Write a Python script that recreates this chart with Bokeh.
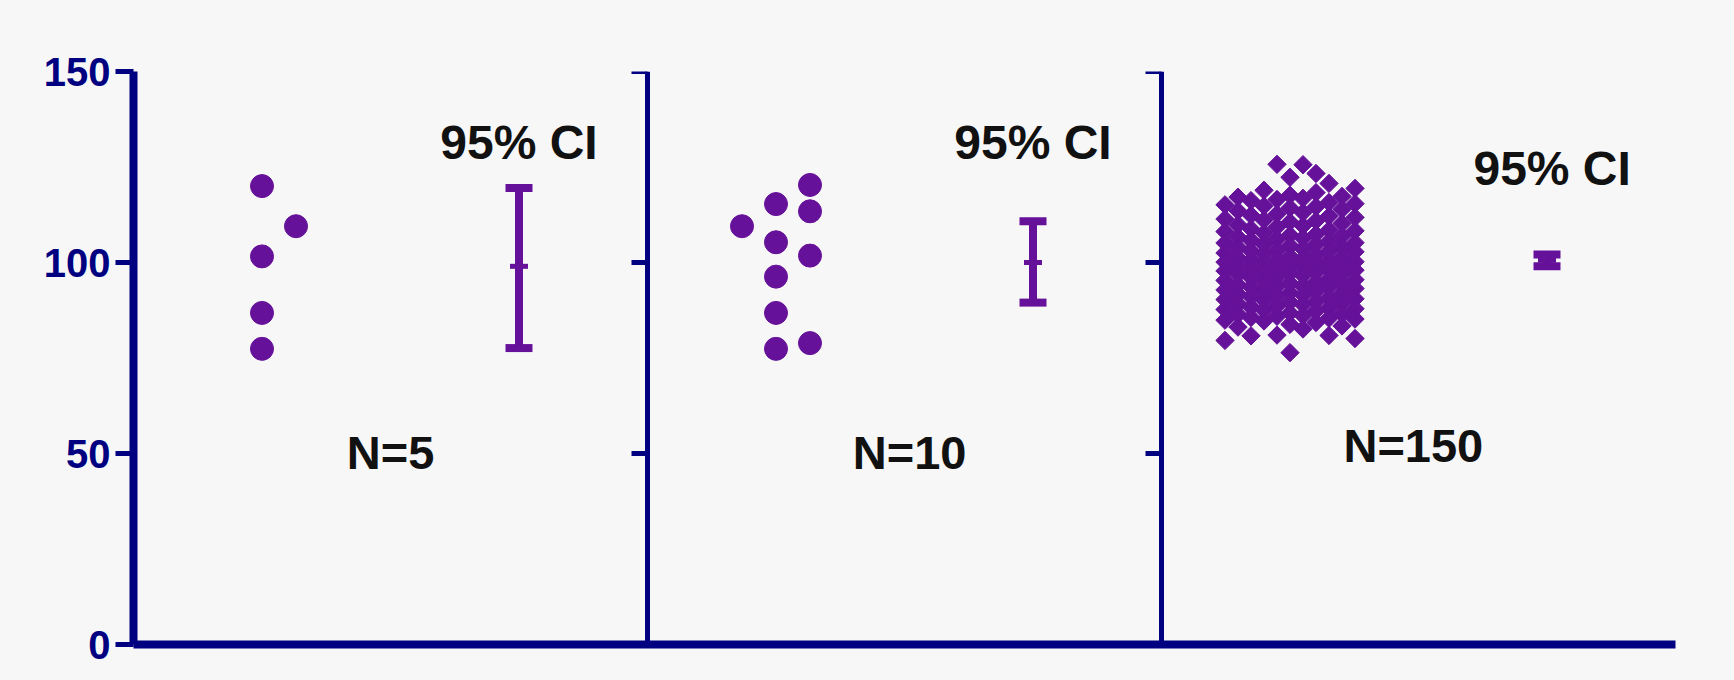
import math
from bokeh.plotting import figure
from bokeh.models import Range1d, FixedTicker, ColumnDataSource
from bokeh.core.properties import value
from bokeh.embed import file_html
from bokeh.resources import INLINE

# ---------------- data ----------------
group_labels = ["N=5", "N=10", "N=150"]
ci_text = "95% CI"
y_ticks = [0, 50, 100, 150]

n5_values = [120.0, 109.5, 101.6, 86.8, 77.4]
n5_slots = [0, 1, 0, 0, 0]

n10_values = [109.5, 115.3, 120.3, 113.4, 105.3, 101.8, 96.3, 86.8, 77.4, 78.9]
n10_slots = [-1, 0, 1, 1, 0, 1, 0, 0, 0, 1]

n150_values = [
    125.7, 123.3, 120.7, 122.3, 125.6, 118.9, 117.6, 118.3, 116.2, 117.1,
    115.7, 115.4, 114.8, 116.5, 113.9, 114.3, 112.7, 113.5, 112.1, 111.8,
    110.9, 111.4, 110.2, 109.6, 110.6, 108.8, 109.3, 108.1, 107.7, 108.5,
    107.2, 106.4, 106.9, 105.8, 106.1, 105.2, 104.7, 105.5, 104.1, 103.6,
    104.4, 103.1, 102.8, 103.3, 102.2, 101.9, 102.5, 101.3, 100.9, 101.6,
    100.4, 100.1, 100.7, 99.8, 99.5, 99.2, 100.2, 98.9, 98.6, 99.1,
    98.2, 97.8, 98.4, 97.4, 97.0, 96.6, 97.2, 96.1, 95.7, 96.3,
    95.3, 94.8, 95.1, 94.4, 93.9, 94.1, 93.5, 93.2, 92.8, 93.6,
    92.4, 91.9, 92.1, 91.5, 91.1, 90.7, 91.3, 90.3, 89.8, 90.1,
    89.4, 89.0, 88.6, 89.2, 88.1, 87.7, 87.9, 87.3, 86.8, 86.4,
    86.1, 85.6, 85.9, 85.2, 84.7, 84.3, 83.8, 83.4, 80.9, 80.1,
    79.6, 80.8, 76.4, 81.0, 83.1,
    101.2, 99.7, 102.9, 98.0, 104.9, 96.9, 106.6, 95.5, 108.3, 93.8,
    111.1, 91.7, 113.1, 89.6, 115.1, 87.5, 117.3, 85.4, 100.6, 103.9,
    97.6, 105.1, 94.6, 107.4, 92.6, 109.9, 90.5, 112.4, 88.3, 114.6,
    86.6, 116.8, 84.9, 119.4, 82.6,
]

ci_mean = [99.0, 100.0, 100.6]
ci_low = [77.6, 89.5, 99.0]
ci_high = [119.5, 110.8, 102.1]

# ---------------- layout / style ----------------
W, H = 1734, 680
FL, FR, FT, FB = 133, 59, 71, 36
FW = W - FL - FR
FH = H - FT - FB
Y_MAX = 150
N_PANELS = 3
PX_X = FW / N_PANELS
PX_Y = FH / Y_MAX

PURPLE = "#661199"
NAVY = "#000080"
BG = "#f7f7f8"
FONT = "Liberation Sans"

POINT_POS = 0.25
CI_POS = 0.75
CIRCLE_SLOT_PX = 34
DIAMOND_STEP_PX = 13
DIAMOND_DMIN_PX = 15
DIAMOND_KMAX = 5


def swarm_offsets(vals):
    med = sorted(vals)[len(vals) // 2]
    order = sorted(range(len(vals)), key=lambda i: abs(vals[i] - med))
    cands = [0]
    for k in range(1, DIAMOND_KMAX + 1):
        cands += [k, -k]
    placed = []
    offs = [0.0] * len(vals)
    for i in order:
        y = vals[i] * PX_Y
        best_k, best_d = 0, -1.0
        chosen = None
        for k in cands:
            x = k * DIAMOND_STEP_PX
            d = min((math.hypot(x - px, y - py) for px, py in placed), default=1e9)
            if d >= DIAMOND_DMIN_PX:
                chosen = k
                break
            if d > best_d:
                best_d, best_k = d, k
        if chosen is None:
            chosen = best_k
        placed.append((chosen * DIAMOND_STEP_PX, y))
        offs[i] = chosen * DIAMOND_STEP_PX
    return offs


p = figure(width=W, height=H, output_backend="svg", toolbar_location=None,
           x_range=Range1d(0, N_PANELS), y_range=Range1d(0, Y_MAX),
           min_border_left=FL, min_border_right=FR, min_border_top=FT,
           min_border_bottom=FB)
p.background_fill_color = BG
p.border_fill_color = BG
p.outline_line_color = None
p.xgrid.visible = False
p.ygrid.visible = False

# y axis
ya = p.yaxis[0]
ya.ticker = FixedTicker(ticks=y_ticks)
ya.axis_line_color = NAVY
ya.axis_line_width = 8
ya.major_tick_line_color = NAVY
ya.major_tick_line_width = 5
ya.major_tick_out = 18
ya.major_tick_in = 0
ya.minor_tick_line_color = None
ya.major_label_standoff = 5
ya.major_label_text_font = FONT
ya.major_label_text_font_style = "bold"
ya.major_label_text_font_size = "40px"
ya.major_label_text_color = NAVY

# x axis: line only
xa = p.xaxis[0]
xa.ticker = FixedTicker(ticks=[])
xa.axis_line_color = NAVY
xa.axis_line_width = 8
xa.major_tick_line_color = None
xa.minor_tick_line_color = None
xa.major_label_text_font_size = "0px"

# panel dividers with left ticks
div_x = list(range(1, N_PANELS))
p.segment(x0=div_x, y0=[0] * len(div_x), x1=div_x, y1=[Y_MAX] * len(div_x),
          line_color=NAVY, line_width=5)
tx0, tx1, ty = [], [], []
for d in div_x:
    for t in y_ticks[1:]:
        tx0.append(d - 16 / PX_X)
        tx1.append(d)
        ty.append(t)
p.segment(x0=tx0, y0=ty, x1=tx1, y1=ty, line_color=NAVY, line_width=5)

# points, panels 1 and 2 (circles)
cx, cy = [], []
for panel, (vals, slots) in enumerate([(n5_values, n5_slots), (n10_values, n10_slots)]):
    for v, s in zip(vals, slots):
        cx.append(panel + POINT_POS + s * CIRCLE_SLOT_PX / PX_X)
        cy.append(v)
p.scatter(x=cx, y=cy, marker="circle", size=23, fill_color=PURPLE, line_color=PURPLE, line_width=1)

# panel 3 diamonds
offs = swarm_offsets(n150_values)
dx = [2 + POINT_POS + o / PX_X for o in offs]
p.scatter(x=dx, y=n150_values, marker="square", angle=math.pi / 4, size=13,
          fill_color=PURPLE, line_color=PURPLE, line_width=1)

# CI error bars
bx = [i + CI_POS for i in range(N_PANELS)]
p.segment(x0=bx, y0=ci_low, x1=bx, y1=ci_high, line_color=PURPLE, line_width=8)
cap = 27 / PX_X / 2
p.segment(x0=[b - cap for b in bx], y0=ci_low, x1=[b + cap for b in bx], y1=ci_low,
          line_color=PURPLE, line_width=8)
p.segment(x0=[b - cap for b in bx], y0=ci_high, x1=[b + cap for b in bx], y1=ci_high,
          line_color=PURPLE, line_width=8)
mcap = 18 / PX_X / 2
p.segment(x0=[b - mcap for b in bx], y0=ci_mean, x1=[b + mcap for b in bx], y1=ci_mean,
          line_color=PURPLE, line_width=5)

# texts
ci_src = ColumnDataSource(dict(x=[0.75, 1.75, 2.76], y=[131.3, 131.3, 124.6],
                               t=[ci_text] * N_PANELS))
p.text(x="x", y="y", text="t", source=ci_src, text_align="center",
       text_baseline="middle", text_font=value(FONT), text_font_style="bold",
       text_font_size="48px", text_color="#111111")
n_src = ColumnDataSource(dict(x=[0.5, 1.51, 2.49], y=[50.3, 50.3, 52.0], t=group_labels))
p.text(x="x", y="y", text="t", source=n_src, text_align="center",
       text_baseline="middle", text_font=value(FONT), text_font_style="bold",
       text_font_size="47px", text_color="#111111")

html = file_html(p, INLINE)
html = html.replace("</head>", "<style>html,body{background:%s;}</style></head>" % BG, 1)
open("out.html", "w").write(html)
